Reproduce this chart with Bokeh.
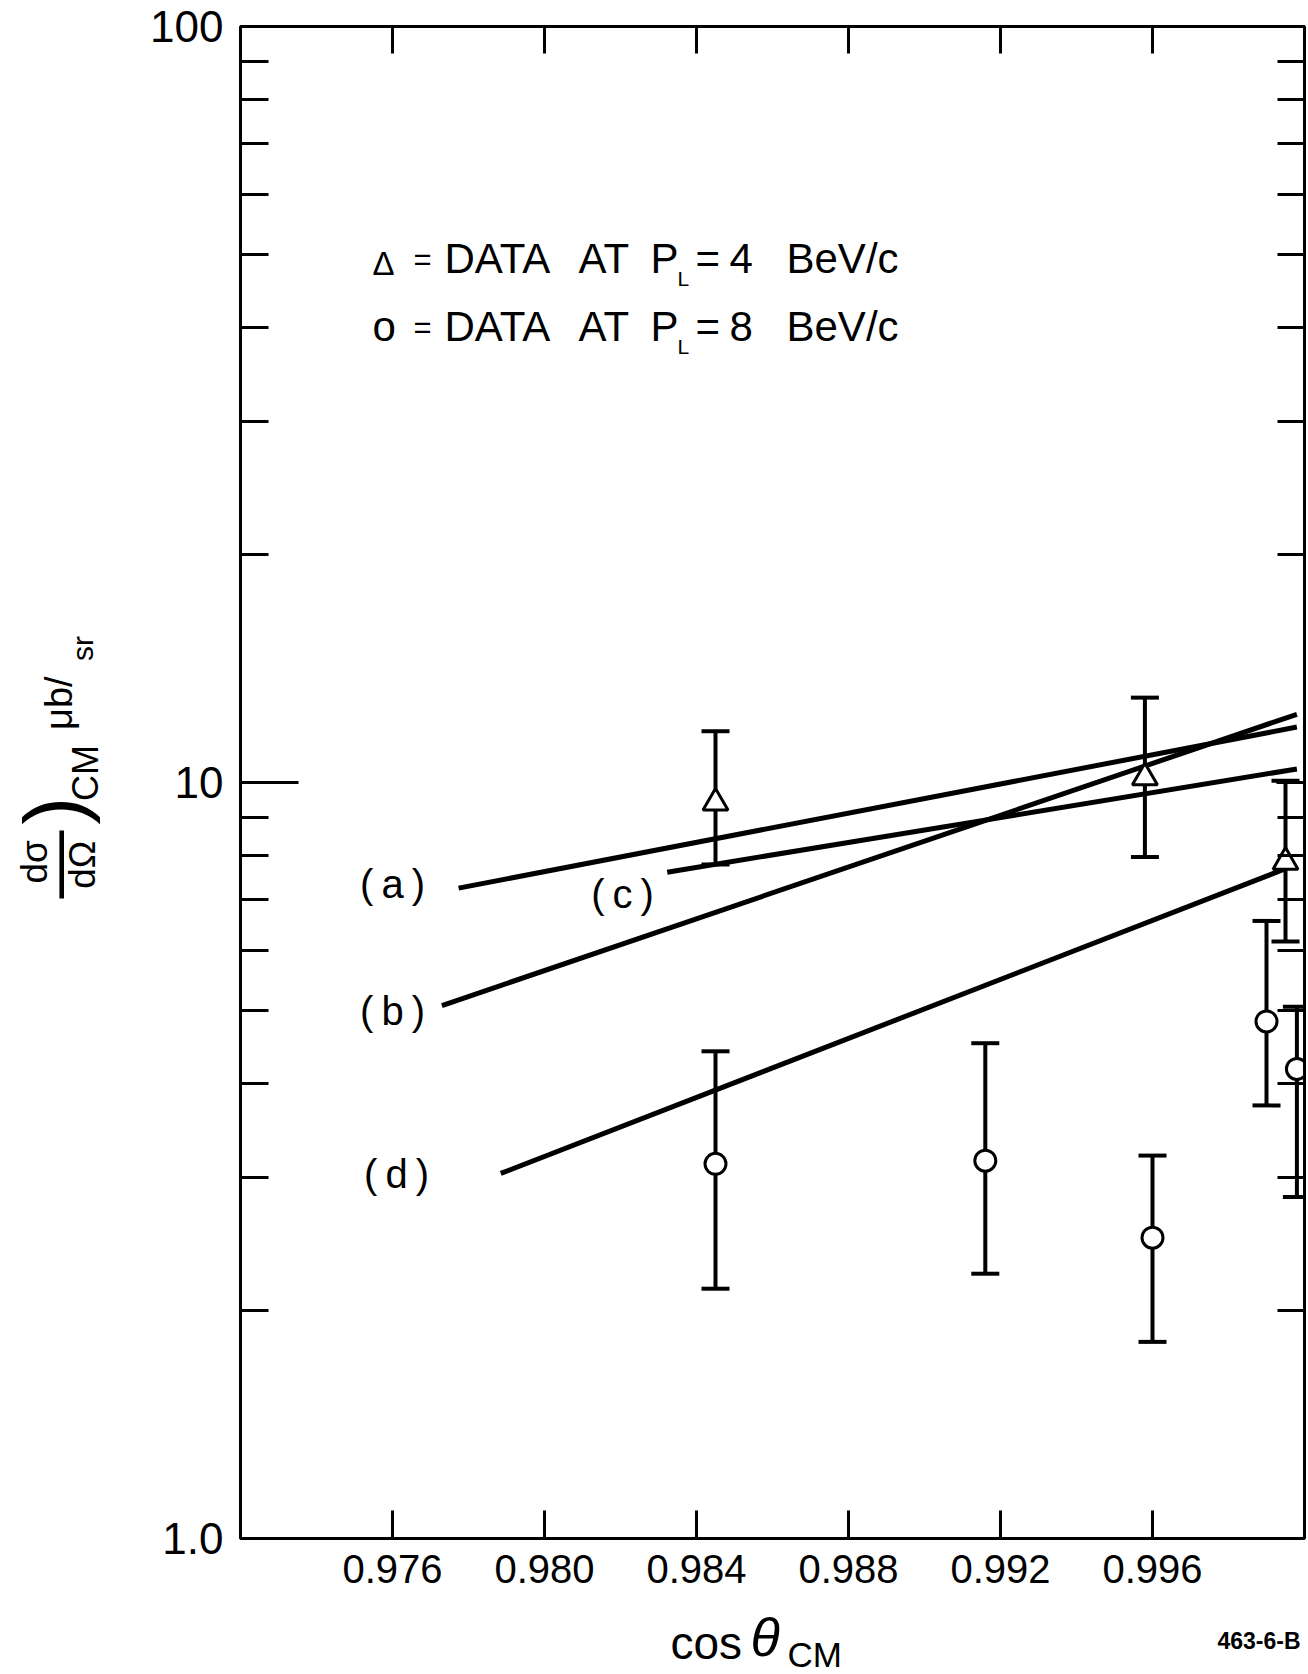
import numpy as np
from bokeh.plotting import figure
from bokeh.layouts import column, row
from bokeh.models import (ColumnDataSource, Whisker, TeeHead, Label, LinearAxis,
                          LogAxis, FixedTicker, Range1d, NumeralTickFormatter)
from bokeh.embed import file_html
from bokeh.resources import INLINE

# ---------------- data ----------------
x_ticks = [0.976, 0.980, 0.984, 0.988, 0.992, 0.996]
y_ticks = [1, 10, 100]
y_tick_labels = ["1.0", "10", "100"]
y_minor = [2, 3, 4, 5, 6, 7, 8, 9, 20, 30, 40, 50, 60, 70, 80, 90]

# triangles: data at P_L = 4 BeV/c
tri_x = [0.9845, 0.9958, 0.9995]
tri_y = [9.40, 10.15, 7.85]
tri_hi = [11.69, 12.95, 10.05]
tri_lo = [7.79, 7.97, 6.16]

# circles: data at P_L = 8 BeV/c
circ_x = [0.9845, 0.9916, 0.9960, 0.9990, 0.9998]
circ_y = [3.13, 3.16, 2.50, 4.83, 4.18]
circ_hi = [4.41, 4.52, 3.21, 6.56, 5.05]
circ_lo = [2.14, 2.24, 1.82, 3.74, 2.83]

# theory curves (a)-(d)
line_a_x = [0.97774, 0.9998]
line_a_y = [7.25, 11.84]
line_b_x = [0.97730, 0.9998]
line_b_y = [5.07, 12.31]
line_c_x = [0.98323, 0.9998]
line_c_y = [7.61, 10.42]
line_d_x = [0.97885, 0.9995]
line_d_y = [3.04, 7.69]

curve_names = ["(\u2009a\u2009)", "(\u2009b\u2009)", "(\u2009c\u2009)", "(\u2009d\u2009)"]

FONT = "Liberation Sans"

# ---------------- layout geometry (page pixels) ----------------
PAGE_W, PAGE_H = 1308, 1674
LEFT_W = 140            # strip holding the y-axis title
MAIN_H = 1602           # height of the main row
FL, FR, FT, FB = 240, 1304, 26, 1538   # plot frame edges
XMIN, XMAX = 0.972, 1.000
YMIN, YMAX = 1.0, 100.0

# ---------------- main figure ----------------
p = figure(width=PAGE_W - LEFT_W, height=MAIN_H,
           x_range=Range1d(XMIN, XMAX), y_range=Range1d(YMIN, YMAX),
           y_axis_type="log", output_backend="svg", toolbar_location=None,
           min_border_left=FL - LEFT_W, min_border_right=PAGE_W - FR,
           min_border_top=FT, min_border_bottom=MAIN_H - FB)
p.grid.visible = False
p.background_fill_color = "white"
p.border_fill_color = "white"
p.outline_line_color = "black"
p.outline_line_width = 3

xa = p.xaxis[0]
xa.ticker = FixedTicker(ticks=x_ticks)
xa.formatter = NumeralTickFormatter(format="0.000")
xa.major_tick_in = 28
xa.major_tick_out = 0
xa.minor_tick_in = 0
xa.minor_tick_out = 0
xa.axis_line_width = 3
xa.major_tick_line_width = 3
xa.major_label_text_font = FONT
xa.major_label_text_font_size = "40px"
xa.major_label_text_color = "black"
xa.major_label_standoff = 16

ya = p.yaxis[0]
ya.ticker = FixedTicker(ticks=y_ticks, minor_ticks=y_minor)
ya.major_label_overrides = {t: l for t, l in zip(y_ticks, y_tick_labels)}
ya.major_tick_in = 58
ya.major_tick_out = 0
ya.minor_tick_in = 28
ya.minor_tick_out = 0
ya.axis_line_width = 3
ya.major_tick_line_width = 3
ya.minor_tick_line_width = 3
ya.major_label_text_font = FONT
ya.major_label_text_font_size = "44px"
ya.major_label_text_color = "black"
ya.major_label_standoff = 17

top = LinearAxis(ticker=FixedTicker(ticks=x_ticks), major_tick_in=27, major_tick_out=0,
                 minor_tick_in=0, minor_tick_out=0, axis_line_width=3,
                 major_tick_line_width=3, major_label_text_font_size="0px",
                 major_label_standoff=0)
top.major_label_overrides = {t: "" for t in x_ticks}
p.add_layout(top, "above")

right = LogAxis(ticker=FixedTicker(ticks=y_ticks, minor_ticks=y_minor), major_tick_in=28,
                major_tick_out=0, minor_tick_in=27, minor_tick_out=0, axis_line_width=3,
                major_tick_line_width=3, minor_tick_line_width=3,
                major_label_text_font_size="0px", major_label_standoff=0)
right.major_label_overrides = {t: "" for t in y_ticks}
p.add_layout(right, "right")

# theory curves
for lx, ly in [(line_a_x, line_a_y), (line_b_x, line_b_y),
               (line_c_x, line_c_y), (line_d_x, line_d_y)]:
    p.line(lx, ly, line_width=5, line_color="black")

# error bars
for xs, hi, lo in [(tri_x, tri_hi, tri_lo), (circ_x, circ_hi, circ_lo)]:
    src = ColumnDataSource(dict(x=xs, upper=hi, lower=lo))
    p.add_layout(Whisker(source=src, base="x", upper="upper", lower="lower",
                         line_width=4, line_color="black",
                         upper_head=TeeHead(size=28, line_width=4, line_color="black"),
                         lower_head=TeeHead(size=28, line_width=4, line_color="black")))

p.scatter(tri_x, tri_y, marker="triangle", size=25, fill_color="white",
          line_color="black", line_width=3)
p.scatter(circ_x, circ_y, marker="circle", size=21, fill_color="white",
          line_color="black", line_width=3)


def dx(px):
    return XMIN + (px - FL) / (FR - FL) * (XMAX - XMIN)


def dy(py):
    return 10 ** (2 - (py - FT) / (FB - FT) * 2)


def lab(fig, x, y, text, size, align="left", angle=0.0, style="normal"):
    fig.add_layout(Label(x=x, y=y, text=text, text_font=FONT,
                         text_font_size=f"{size}px", text_align=align,
                         text_baseline="middle", angle=angle,
                         text_font_style=style, text_color="black"))


def mlab(text, px, py, size, align="left", style="normal"):
    lab(p, dx(px), dy(py), text, size, align=align, style=style)


# legend (y = visual centre of the capitals)
for sym, sym_size, sym_y, num, yc in [("\u0394", 33, 263, "4", 259), ("o", 42, 326, "8", 327)]:
    mlab(sym, 372, sym_y, sym_size)
    mlab("=", 413, yc, 31)
    mlab("DATA", 444, yc - 1, 42)
    mlab("AT", 578, yc - 1, 42)
    mlab("P", 650, yc - 1, 42)
    mlab("L", 677, yc + 19, 21)
    mlab("=", 695, yc - 1, 42)
    mlab(num, 729, yc - 1, 42)
    mlab("BeV/c", 786, yc - 1, 42)

# curve labels
for name, (cx, cy) in zip(curve_names, [(392, 883), (392, 1010), (622, 893), (396, 1173)]):
    mlab(name, cx, cy, 40, align="center")

# ---------------- left strip: y-axis title ----------------
pl = figure(width=LEFT_W, height=MAIN_H, x_range=Range1d(0, LEFT_W),
            y_range=Range1d(MAIN_H, 0), x_axis_type=None, y_axis_type=None,
            toolbar_location=None, output_backend="svg", min_border=0,
            outline_line_color=None)
pl.grid.visible = False
pl.background_fill_color = "white"
pl.border_fill_color = "white"
R = np.pi / 2
lab(pl, 34, 885, "d\u03c3", 37, align="center", angle=R)
lab(pl, 54, 888, "\u2014", 68, align="center", angle=R)
lab(pl, 82, 888, "d\u03a9", 37, align="center", angle=R)
lab(pl, 53, 831, ")", 84, align="center", angle=R)
lab(pl, 85, 791, "CM", 36, align="center", angle=R)
lab(pl, 58, 717, "\u03bcb/", 38, align="center", angle=R)
lab(pl, 82, 659, "sr", 30, align="center", angle=R)

# ---------------- bottom strip: x-axis title ----------------
pb = figure(width=PAGE_W, height=PAGE_H - MAIN_H, x_range=Range1d(0, PAGE_W),
            y_range=Range1d(PAGE_H, MAIN_H), x_axis_type=None, y_axis_type=None,
            toolbar_location=None, output_backend="svg", min_border=0,
            outline_line_color=None)
pb.grid.visible = False
pb.background_fill_color = "white"
pb.border_fill_color = "white"
lab(pb, 670, 1642, "cos", 46)
lab(pb, 750, 1636, "\u03b8", 54, style="italic")
lab(pb, 787, 1654, "CM", 35)
lab(pb, 1217, 1640, "463-6-B", 23, style="bold")

layout = column(row(pl, p), pb)
open("out.html", "w").write(file_html(layout, INLINE))
